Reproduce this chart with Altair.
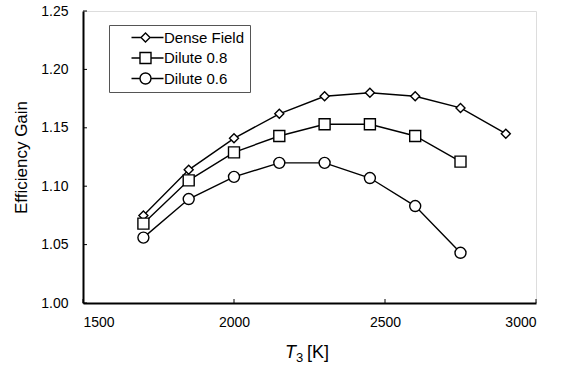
import altair as alt
import pandas as pd

temps = [1700, 1850, 2000, 2150, 2300, 2450, 2600, 2750, 2900]
dense = [1.075, 1.114, 1.141, 1.162, 1.177, 1.180, 1.177, 1.167, 1.145]
dilute08 = [1.068, 1.105, 1.129, 1.143, 1.153, 1.153, 1.143, 1.121]
dilute06 = [1.056, 1.089, 1.108, 1.120, 1.120, 1.107, 1.083, 1.043]
series_names = ["Dense Field", "Dilute 0.8", "Dilute 0.6"]
x_ticks = [1500, 2000, 2500, 3000]
y_ticks = [1.00, 1.05, 1.10, 1.15, 1.20, 1.25]

rows = []
for name, vals in zip(series_names, [dense, dilute08, dilute06]):
    for t, v in zip(temps, vals):
        rows.append({"T3": t, "gain": v, "series": name})
df = pd.DataFrame(rows)

FONT = "Liberation Sans"
W, H = 453, 292

# marker paths (unit = sqrt(size)/2 = 5 px)
p_diamond = "M0,-0.9L0.9,0L0,0.9L-0.9,0Z"
p_square = "M-1.1,-1.1H1.1V1.1H-1.1Z"
p_circle = "M1.1,0A1.1,1.1 0 1,1 -1.1,0A1.1,1.1 0 1,1 1.1,0Z"
paths = [p_diamond, p_square, p_circle]
# legend symbols: line - marker - line
leg_paths = [
    "M2,0H3.9M5.7,0H8.4M4.8,-0.9L5.7,0L4.8,0.9L3.9,0Z",
    "M2,0H3.7M5.9,0H8.4M3.7,-1.1H5.9V1.1H3.7Z",
    "M2,0H3.7M5.9,0H8.4M5.9,0A1.1,1.1 0 1,1 3.7,0A1.1,1.1 0 1,1 5.9,0Z",
]

xscale = alt.Scale(domain=[1500, 3000])
yscale = alt.Scale(domain=[1.0, 1.25])

xaxis = alt.Axis(values=x_ticks, format="d", title=None, grid=False, ticks=False,
                 labelFontSize=14, labelFont=FONT, labelColor="black", labelPadding=12,
                 domainColor="black", domainWidth=2)
yaxis = alt.Axis(values=y_ticks, format=".2f", title="Efficiency Gain", grid=False, ticks=False,
                 labelFontSize=14, labelFont=FONT, labelColor="black", labelPadding=15,
                 titleFontSize=17, titleFont=FONT, titleFontWeight="normal", titleColor="black",
                 titlePadding=10, domainColor="black", domainWidth=2)

base = alt.Chart(df)
lines = base.mark_line(color="black", strokeWidth=1.4).encode(
    x=alt.X("T3:Q", scale=xscale, axis=xaxis),
    y=alt.Y("gain:Q", scale=yscale, axis=yaxis),
    detail="series:N",
)
points = base.mark_point(filled=True, fill="white", stroke="black", strokeWidth=1.4,
                         size=100, opacity=1).encode(
    x=alt.X("T3:Q", scale=xscale),
    y=alt.Y("gain:Q", scale=yscale),
    shape=alt.Shape("series:N", scale=alt.Scale(domain=series_names, range=paths), legend=None),
)
legend_layer = base.transform_filter("false").mark_point(
    filled=False, stroke="black", strokeWidth=1.4, size=100, opacity=1).encode(
    x=alt.X("T3:Q", scale=xscale),
    y=alt.Y("gain:Q", scale=yscale),
    shape=alt.Shape("series:N",
                    scale=alt.Scale(domain=series_names, range=leg_paths),
                    legend=alt.Legend(
                        title=None, orient="none", legendX=26, legendY=14,
                        symbolSize=100, symbolFillColor="white", symbolStrokeColor="black",
                        symbolStrokeWidth=1.4, symbolOpacity=1, labelFont=FONT, labelFontSize=15,
                        labelColor="black", labelOffset=35, rowPadding=3.5,
                        labelExpr="datum.label + '  '",
                        padding=5, strokeColor="#555555", fillColor="white",
                    )),
)

xt = pd.DataFrame({"xt": x_ticks})
yt = pd.DataFrame({"yt": y_ticks})
xticks = alt.Chart(xt).mark_rule(color="black", strokeWidth=1).encode(
    x=alt.X("xt:Q", scale=xscale), y=alt.value(H), y2=alt.value(H - 4))
yticks = alt.Chart(yt).mark_rule(color="black", strokeWidth=1).encode(
    y=alt.Y("yt:Q", scale=yscale), x=alt.value(0), x2=alt.value(4))

t_italic = alt.Chart(pd.DataFrame({"s": ["T"]})).mark_text(
    font=FONT, fontSize=18, fontStyle="italic", align="left", baseline="alphabetic", color="black"
).encode(text="s:N", x=alt.value(202), y=alt.value(H + 55))
t_sub = alt.Chart(pd.DataFrame({"s": ["3"]})).mark_text(
    font=FONT, fontSize=13, align="left", baseline="alphabetic", color="black"
).encode(text="s:N", x=alt.value(213), y=alt.value(H + 59))
t_rest = alt.Chart(pd.DataFrame({"s": ["[K]"]})).mark_text(
    font=FONT, fontSize=18, align="left", baseline="alphabetic", color="black"
).encode(text="s:N", x=alt.value(224), y=alt.value(H + 55))

chart = alt.layer(lines, points, legend_layer, xticks, yticks, t_italic, t_sub, t_rest).resolve_scale(
    shape="independent"
).properties(
    width=W, height=H, padding={"left": 12, "top": 4, "right": 5, "bottom": 3}
).configure_view(stroke="black", strokeWidth=2).configure_legend(
    strokeColor="#555555", fillColor="white", padding=5
).configure(background="white")

chart.save("out.html", embed_options={"renderer": "svg", "actions": False})
